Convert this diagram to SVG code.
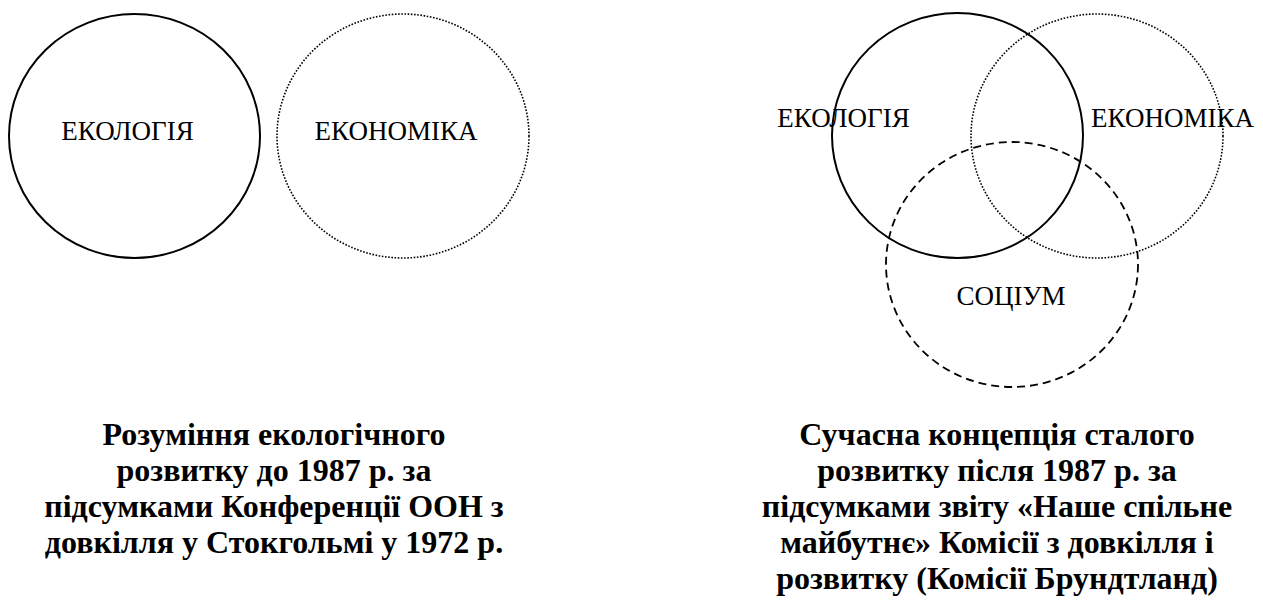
<svg xmlns="http://www.w3.org/2000/svg" width="1263" height="601" viewBox="0 0 1263 601">
<style>
.c{fill:none;stroke:#000}
.solid{stroke-width:2}
.dot{stroke-width:1.6;stroke-dasharray:1.6 1.6}
.dash{stroke-width:1.8;stroke-dasharray:8 5}
.lbl{font-family:"Liberation Serif","Times New Roman",serif;font-size:27px;fill:#000;text-anchor:middle}
.cap{font-family:"Liberation Serif","Times New Roman",serif;font-size:32px;font-weight:bold;fill:#000;text-anchor:middle}
</style>
<rect width="1263" height="601" fill="#fff"/>
<g id="left-ecology">
<ellipse class="c solid" cx="134.5" cy="136" rx="125.5" ry="122"/>
<text class="lbl" x="127.5" y="140">ЕКОЛОГІЯ</text>
</g>
<g id="left-economy">
<ellipse class="c dot" cx="403" cy="136" rx="126" ry="122"/>
<text class="lbl" x="396" y="140">ЕКОНОМІКА</text>
</g>
<g id="left-caption">
<text class="cap" x="274" y="445">Розуміння екологічного</text>
<text class="cap" x="274" y="481">розвитку до 1987 р. за</text>
<text class="cap" x="274" y="517">підсумками Конференції ООН з</text>
<text class="cap" x="274" y="553">довкілля у Стокгольмі у 1972 р.</text>
</g>
<g id="right-ecology">
<ellipse class="c solid" cx="957.5" cy="135.5" rx="125.5" ry="122.5"/>
<text class="lbl" x="843.5" y="127">ЕКОЛОГІЯ</text>
</g>
<g id="right-economy">
<ellipse class="c dot" cx="1097" cy="136" rx="126" ry="122"/>
<text class="lbl" x="1172.5" y="127">ЕКОНОМІКА</text>
</g>
<g id="right-society">
<ellipse class="c dash" cx="1012" cy="264.5" rx="126" ry="122.5"/>
<text class="lbl" x="1011" y="305">СОЦІУМ</text>
</g>
<g id="right-caption">
<text class="cap" x="997" y="445">Сучасна концепція сталого</text>
<text class="cap" x="997" y="481">розвитку після 1987 р. за</text>
<text class="cap" x="997" y="517">підсумками звіту «Наше спільне</text>
<text class="cap" x="997" y="553">майбутнє» Комісії з довкілля і</text>
<text class="cap" x="997" y="589">розвитку (Комісії Брундтланд)</text>
</g>
<g id="connectors"></g>
</svg>
